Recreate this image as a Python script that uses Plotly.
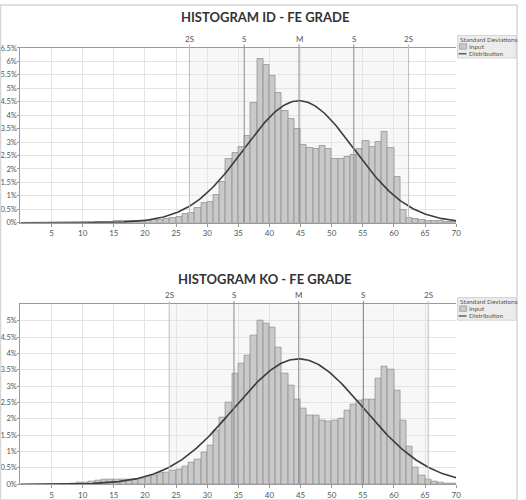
import numpy as np
import plotly.graph_objects as go

# ---------------- data ----------------
ID_TITLE = "HISTOGRAM ID - FE GRADE"
KO_TITLE = "HISTOGRAM KO - FE GRADE"

ID_BIN_START = 11
ID_PCT = [0.01, 0.02, 0.03, 0.04, 0.05, 0.05, 0.05, 0.06, 0.07, 0.08,
          0.09, 0.11, 0.13, 0.16, 0.22, 0.32, 0.37, 0.56, 0.75, 0.79,
          1.04, 1.52, 2.37, 2.59, 2.82, 3.24, 4.44, 6.08, 5.85, 5.47,
          4.83, 4.17, 3.87, 3.49, 2.88, 2.80, 2.76, 2.87, 2.75, 2.38,
          2.38, 2.43, 2.52, 2.76, 3.04, 2.82, 2.99, 3.38, 2.77, 1.70,
          0.49, 0.16, 0.15, 0.11, 0.08, 0.06, 0.05, 0.04, 0.03]
ID_MEAN = 44.75
ID_SD = 8.8

KO_BIN_START = 8
KO_PCT = [0.02, 0.04, 0.06, 0.08, 0.12, 0.14, 0.14, 0.15, 0.15, 0.13,
          0.14, 0.17, 0.23, 0.27, 0.35, 0.37, 0.41, 0.45, 0.55, 0.65,
          0.77, 0.97, 1.19, 1.65, 2.04, 2.50, 3.39, 3.68, 3.95, 4.55,
          5.00, 4.92, 4.79, 4.19, 3.39, 3.02, 2.60, 2.32, 2.11, 2.09,
          1.96, 1.92, 1.95, 2.02, 2.25, 2.44, 2.55, 2.59, 2.60, 3.23,
          3.59, 3.52, 2.87, 1.94, 1.14, 0.52, 0.27, 0.15, 0.07, 0.04,
          0.02, 0.01]
KO_MEAN = 44.7
KO_SD = 10.4

X_TICKS = [5, 10, 15, 20, 25, 30, 35, 40, 45, 50, 55, 60, 65, 70]
ID_Y_TICKS = [0, 0.5, 1, 1.5, 2, 2.5, 3, 3.5, 4, 4.5, 5, 5.5, 6, 6.5]
ID_Y_LABELS = ["0%", "0.5%", "1%", "1.5%", "2%", "2.5%", "3%", "3.5%", "4%",
               "4.5%", "5%", "5.5%", "6%", "6.5%"]
KO_Y_TICKS = [0, 0.5, 1, 1.5, 2, 2.5, 3, 3.5, 4, 4.5, 5]
KO_Y_LABELS = ["0%", "0.5%", "1%", "1.5%", "2%", "2.5%", "3%", "3.5%", "4%",
               "4.5%", "5%"]
SD_MULT = [-2, -1, 0, 1, 2]
SD_LABELS = ["2S", "S", "M", "S", "2S"]
LEGEND_TITLE = "Standard Deviations"
LEGEND_ITEMS = ["Input", "Distribution"]

# ---------------- styling ----------------
W, H = 526, 500
FONT = "Lato"
BAR_FILL = "#c9c9c9"
BAR_LINE = "#8a8a8a"
CURVE = "#3c3c3c"
GRID = "#e4e4e4"
TXT = "#555555"

def px(x):
    return x / W

def py(y):
    return 1 - y / H

X0, X1 = 20.6, 460.6
panels = [
    dict(title=ID_TITLE, start=ID_BIN_START, pct=ID_PCT, mean=ID_MEAN, sd=ID_SD,
         ytop=44.7, ybot=222.7, yrange=6.5, yticks=ID_Y_TICKS, ylabels=ID_Y_LABELS,
         title_y=13, leg_top=32, xa="x", ya="y"),
    dict(title=KO_TITLE, start=KO_BIN_START, pct=KO_PCT, mean=KO_MEAN, sd=KO_SD,
         ytop=306, ybot=489, yrange=5.5, yticks=KO_Y_TICKS, ylabels=KO_Y_LABELS,
         title_y=280.5, leg_top=299, xa="x2", ya="y2"),
]

fig = go.Figure()
shapes = []
annotations = []
layout = {}

for i, p in enumerate(panels):
    sfx = "" if i == 0 else str(i + 1)
    bins = np.arange(p["start"], p["start"] + len(p["pct"]))
    fig.add_trace(go.Bar(
        x=bins + 0.5, y=p["pct"], width=1.0,
        marker=dict(color=BAR_FILL, line=dict(color=BAR_LINE, width=0.7)),
        xaxis=p["xa"], yaxis=p["ya"], showlegend=False, hoverinfo="skip"))
    xs = np.linspace(0, 70, 281)
    ys = 100.0 / (p["sd"] * np.sqrt(2 * np.pi)) * np.exp(-0.5 * ((xs - p["mean"]) / p["sd"]) ** 2)
    fig.add_trace(go.Scatter(
        x=xs, y=ys, mode="lines", line=dict(color=CURVE, width=1.6),
        xaxis=p["xa"], yaxis=p["ya"], showlegend=False, hoverinfo="skip"))

    layout["xaxis" + sfx] = dict(
        domain=[px(X0), px(X1)], range=[0, 70], anchor=p["ya"],
        tickvals=X_TICKS, showgrid=True, gridcolor=GRID, gridwidth=1,
        zeroline=False, showline=True, linecolor="#9a9a9a", linewidth=1, mirror=True,
        ticks="outside", ticklen=3, tickcolor="#9a9a9a",
        tickfont=dict(family=FONT, size=8, color=TXT))
    layout["yaxis" + sfx] = dict(
        domain=[py(p["ybot"]), py(p["ytop"])], range=[0, p["yrange"]], anchor=p["xa"],
        tickmode="array", tickvals=p["yticks"], ticktext=p["ylabels"],
        showgrid=True, gridcolor=GRID, gridwidth=1,
        zeroline=False, showline=True, linecolor="#9a9a9a", linewidth=1,
        ticks="outside", ticklen=2, tickcolor="#9a9a9a", ticklabelstandoff=-1,
        tickfont=dict(family=FONT, size=7.5, color=TXT))

    # +-2S shaded band
    shapes.append(dict(type="rect", xref=p["xa"], yref=p["ya"] + " domain",
                       x0=p["mean"] - 2 * p["sd"], x1=p["mean"] + 2 * p["sd"], y0=0, y1=1,
                       fillcolor="#f7f7f7", line=dict(width=0), layer="below"))
    # SD lines + labels
    for k, lab in zip(SD_MULT, SD_LABELS):
        xv = p["mean"] + k * p["sd"]
        col = "#bdbdbd" if abs(k) == 2 else "#8c8c8c"
        shapes.append(dict(type="line", xref=p["xa"], yref=p["ya"] + " domain",
                           x0=xv, x1=xv, y0=0, y1=1.02,
                           line=dict(color=col, width=1), layer="above"))
        annotations.append(dict(text=lab, xref=p["xa"], yref=p["ya"] + " domain",
                                x=xv, y=1, yanchor="bottom", yshift=2, showarrow=False,
                                font=dict(family=FONT, size=8, color=TXT)))
    # title
    annotations.append(dict(text="<b>" + p["title"] + "</b>", xref="paper", yref="paper",
                            x=px(268), y=py(p["title_y"]), xanchor="center", yanchor="middle",
                            showarrow=False, font=dict(family=FONT, size=13, color="#333333")))
    # legend (manual)
    t = p["leg_top"]
    shapes.append(dict(type="rect", xref="paper", yref="paper",
                       x0=px(462), x1=px(521), y0=py(t + 23), y1=py(t),
                       fillcolor="#ececec", line=dict(color="#d4d4d4", width=1)))
    shapes.append(dict(type="rect", xref="paper", yref="paper",
                       x0=px(464), x1=px(471), y0=py(t + 14), y1=py(t + 8.5),
                       fillcolor=BAR_FILL, line=dict(color=BAR_LINE, width=0.6)))
    shapes.append(dict(type="line", xref="paper", yref="paper",
                       x0=px(463), x1=px(471), y0=py(t + 18.7), y1=py(t + 18.7),
                       line=dict(color=CURVE, width=1.2)))
    annotations.append(dict(text=LEGEND_TITLE, xref="paper", yref="paper",
                            x=px(462.5), y=py(t + 3.8), xanchor="left", yanchor="middle",
                            showarrow=False, font=dict(family=FONT, size=6.5, color="#555")))
    annotations.append(dict(text=LEGEND_ITEMS[0], xref="paper", yref="paper",
                            x=px(471.5), y=py(t + 11.2), xanchor="left", yanchor="middle",
                            showarrow=False, font=dict(family=FONT, size=6.5, color="#555")))
    annotations.append(dict(text=LEGEND_ITEMS[1], xref="paper", yref="paper",
                            x=px(471.5), y=py(t + 18.7), xanchor="left", yanchor="middle",
                            showarrow=False, font=dict(family=FONT, size=6.5, color="#555")))

# page frame
shapes.append(dict(type="rect", xref="paper", yref="paper",
                   x0=px(0.5), x1=px(522), y0=-0.01, y1=py(1),
                   line=dict(color="#d6d6d6", width=1.5), fillcolor="rgba(0,0,0,0)"))

fig.update_layout(
    width=W, height=H, margin=dict(l=0, r=0, t=0, b=0),
    paper_bgcolor="white", plot_bgcolor="white",
    bargap=0, showlegend=False,
    shapes=shapes, annotations=annotations,
    font=dict(family=FONT, color=TXT),
    **layout)

fig.write_html("out.html")
